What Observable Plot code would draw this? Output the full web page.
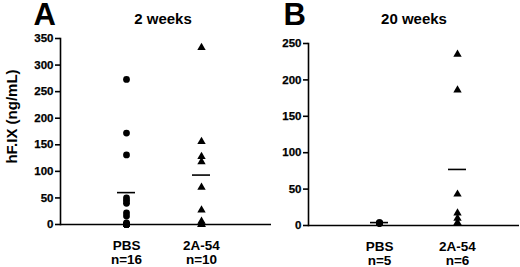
<!DOCTYPE html>
<html>
<head>
<meta charset="utf-8">
<script src="https://cdn.jsdelivr.net/npm/d3@7"></script>
<script src="https://cdn.jsdelivr.net/npm/@observablehq/plot@0.6"></script>
<style>
  html, body { margin: 0; padding: 0; background: white; }
  #chart { position: relative; width: 520px; height: 267px; overflow: hidden; }
  #chart svg { position: absolute; top: 0; }
</style>
</head>
<body>
<div id="chart"></div>
<script>
// ---- Data ----
const groups = ["PBS", "2A-54"];

// Panel A: 2 weeks
const panelA_title = "2 weeks";
const panelA_letter = "A";
const panelA_n = [16, 10];
const panelA_PBS = [273, 172, 131, 50, 45, 40, 22, 16, 3, 0, 0, 0, 0, 0, 0, 0];
const panelA_2A54 = [333, 156, 128, 118, 70, 27, 6, 3, 0, 0];
const panelA_means = [60, 93];
const panelA_yTicks = [0, 50, 100, 150, 200, 250, 300, 350];

// Panel B: 20 weeks
const panelB_title = "20 weeks";
const panelB_letter = "B";
const panelB_n = [5, 6];
const panelB_PBS = [4, 4, 3, 3, 3];
const panelB_2A54 = [235, 186, 43, 17, 10, 4];
const panelB_means = [4, 77];
const panelB_yTicks = [0, 50, 100, 150, 200, 250];

const yLabel = "hF.IX (ng/mL)";

const font = "'Liberation Sans', Arial, Helvetica, sans-serif";

function panel(cfg) {
  const pbs = cfg.pbs.map(v => ({group: groups[0], value: v}));
  const trt = cfg.trt.map(v => ({group: groups[1], value: v}));
  const means = groups.map((g, i) => ({group: g, mean: cfg.means[i]}));
  const labels = groups.map((g, i) => ({group: g, text: `${g}\nn=${cfg.n[i]}`}));
  const yMax = cfg.yTicks[cfg.yTicks.length - 1];
  const frameW = cfg.width - cfg.marginLeft - cfg.marginRight;
  return Plot.plot({
    width: cfg.width,
    height: 267,
    marginLeft: cfg.marginLeft,
    marginRight: cfg.marginRight,
    marginTop: cfg.marginTop,
    marginBottom: cfg.marginBottom,
    style: {fontFamily: font, fontWeight: "bold", color: "black", background: "transparent", overflow: "visible"},
    x: {type: "band", domain: groups, range: cfg.xRange, paddingInner: cfg.pad, paddingOuter: 0, axis: null},
    y: {domain: [0, yMax], axis: null},
    marks: [
      Plot.ruleY([0], {stroke: "black", strokeWidth: 1.5}),
      // y tick marks (short, pointing left) and tick labels
      Plot.ruleY(cfg.yTicks, {insetLeft: -5, insetRight: frameW, stroke: "black", strokeWidth: 1.6}),
      Plot.text(cfg.yTicks, {y: d => d, text: d => String(d), frameAnchor: "left", textAnchor: "end",
        dx: -7, fontSize: 11.5, fill: "black", stroke: "black", strokeWidth: 0.25}),
      Plot.tickY(means, {x: "group", y: "mean", stroke: "black", strokeWidth: 1.6}),
      Plot.dot(pbs, {x: "group", y: "value", r: 3.4, fill: "black", symbol: "circle"}),
      Plot.dot(trt, {x: "group", y: "value", r: 3.1, fill: "black", symbol: "triangle"}),
      Plot.text(labels, {x: "group", text: "text", frameAnchor: "bottom", lineAnchor: "top",
        dy: 15, fontSize: 13.5, lineHeight: 1.08, fill: "black"}),
      Plot.text([cfg.letter], {frameAnchor: "top-left", textAnchor: "start", lineAnchor: "bottom",
        dx: cfg.letterDx, dy: cfg.letterDy, fontSize: 31, fill: "black"}),
      Plot.text([cfg.title], {frameAnchor: "top", lineAnchor: "bottom",
        dx: cfg.titleDx, dy: cfg.titleDy, fontSize: 15, fill: "black"}),
      ...(cfg.yLabel ? [Plot.text([cfg.yLabel], {frameAnchor: "left", textAnchor: "middle", rotate: -90,
        dx: cfg.yLabelDx, dy: cfg.yLabelDy, fontSize: 15, fill: "black"})] : []),
      // vertical y-axis line
      Plot.frame({anchor: "left", stroke: "black", strokeWidth: 1.6})
    ]
  });
}

const chart = document.getElementById("chart");

const a = panel({
  width: 271, marginLeft: 60, marginRight: 0, marginTop: 38, marginBottom: 43,
  xRange: [117, 210], pad: 0.76,
  pbs: panelA_PBS, trt: panelA_2A54, means: panelA_means, n: panelA_n, yTicks: panelA_yTicks,
  letter: panelA_letter, letterDx: -27, letterDy: -14,
  title: panelA_title, titleDx: -3, titleDy: -15,
  yLabel: yLabel, yLabelDx: -48, yLabelDy: -15
});
a.style.left = "0px";
chart.appendChild(a);

const b = panel({
  width: 260, marginLeft: 48, marginRight: 1, marginTop: 43, marginBottom: 42,
  xRange: [109, 206], pad: 0.77,
  pbs: panelB_PBS, trt: panelB_2A54, means: panelB_means, n: panelB_n, yTicks: panelB_yTicks,
  letter: panelB_letter, letterDx: -25, letterDy: -19,
  title: panelB_title, titleDx: 0, titleDy: -20
});
b.style.left = "260px";
chart.appendChild(b);
</script>
</body>
</html>
